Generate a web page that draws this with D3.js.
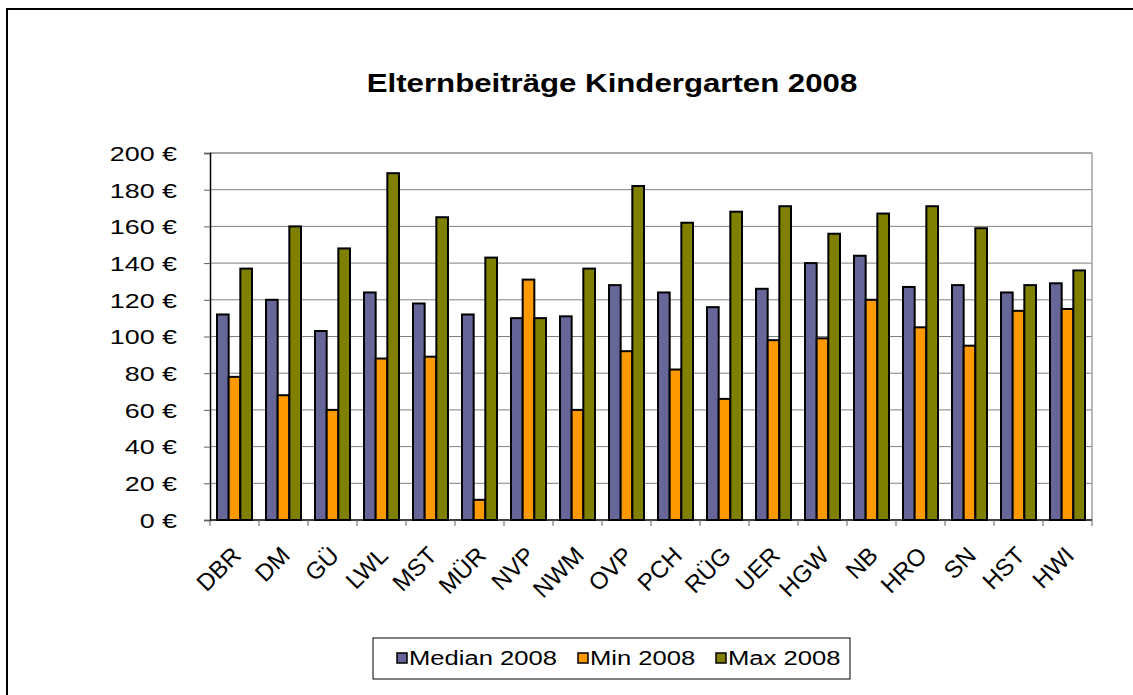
<!DOCTYPE html>
<html>
<head>
<meta charset="utf-8">
<script src="https://cdn.jsdelivr.net/npm/d3@7"></script>
<style>
  body { margin: 0; background: #fff; }
  svg text { font-family: Arial, "Liberation Sans", sans-serif; }
</style>
</head>
<body>
<svg id="chart" width="1133" height="695"></svg>
<script>
// Kreise / kreisfreie Städte
var kreise = ["DBR", "DM", "GÜ", "LWL", "MST", "MÜR", "NVP", "NWM", "OVP",
              "PCH", "RÜG", "UER", "HGW", "NB", "HRO", "SN", "HST", "HWI"];

var median2008 = [112, 120, 103, 124, 118, 112, 110, 111, 128, 124, 116, 126, 140, 144, 127, 128, 124, 129];
var min2008    = [78, 68, 60, 88, 89, 11, 131, 60, 92, 82, 66, 98, 99, 120, 105, 95, 114, 115];
var max2008    = [137, 160, 148, 189, 165, 143, 110, 137, 182, 162, 168, 171, 156, 167, 171, 159, 128, 136];

var serien = ["Median 2008", "Min 2008", "Max 2008"];
var farben = ["#666699", "#FF9900", "#808000"];
var yTicks = [0, 20, 40, 60, 80, 100, 120, 140, 160, 180, 200];

// the screenshot is stretched horizontally, so the text is too
var sx = 1.28;

var svg = d3.select("#chart"),
    margin = {top: 153, right: 41, bottom: 175, left: 210},
    width = +svg.attr("width") - margin.left - margin.right,
    height = +svg.attr("height") - margin.top - margin.bottom;

// outer chart border (cut off right / bottom like the screenshot)
svg.append("rect")
    .attr("x", 7).attr("y", 9)
    .attr("width", 1140).attr("height", 700)
    .attr("fill", "none")
    .attr("stroke", "#000")
    .attr("stroke-width", 2);

svg.append("text")
    .attr("transform", "translate(612,92) scale(1.2,1)")
    .attr("text-anchor", "middle")
    .style("font-size", "26px")
    .style("font-weight", "bold")
    .text("Elternbeiträge Kindergarten 2008");

var g = svg.append("g").attr("transform", "translate(" + margin.left + "," + margin.top + ")");

var x = d3.scaleBand().domain(kreise).range([0, width]).paddingInner(0).paddingOuter(0);
var y = d3.scaleLinear().domain([0, 200]).range([height, 0]);

// gridlines
g.selectAll(".grid")
  .data(yTicks.filter(function(d) { return d > 0; }))
  .enter().append("line")
    .attr("x1", 0).attr("x2", width)
    .attr("y1", function(d) { return y(d); })
    .attr("y2", function(d) { return y(d); })
    .attr("stroke", "#808080")
    .attr("stroke-width", 1);

// top / right border of plot area
g.append("line")
    .attr("x1", width).attr("x2", width)
    .attr("y1", 0).attr("y2", height)
    .attr("stroke", "#a0a0a0")
    .attr("stroke-width", 1.5);
g.append("line")
    .attr("x1", 0).attr("x2", width)
    .attr("y1", 0).attr("y2", 0)
    .attr("stroke", "#a0a0a0")
    .attr("stroke-width", 1.5);

// bars
var gap = 1.2;
var bw = x.bandwidth() / (3 + gap);
var werte = [median2008, min2008, max2008];

werte.forEach(function(arr, si) {
  g.selectAll(".bar" + si)
    .data(kreise)
    .enter().append("rect")
      .attr("x", function(d) { return x(d) + bw * gap / 2 + si * bw; })
      .attr("y", function(d, i) { return y(arr[i]); })
      .attr("width", bw)
      .attr("height", function(d, i) { return height - y(arr[i]); })
      .attr("fill", farben[si])
      .attr("stroke", "#000")
      .attr("stroke-width", 2);
});

// y axis
var yAxis = g.append("g")
    .call(d3.axisLeft(y).tickValues(yTicks).tickSize(6).tickFormat(function(d) { return d + " €"; }));
yAxis.select(".domain").attr("stroke", "#000").attr("stroke-width", 1.5);
yAxis.selectAll(".tick line").attr("stroke", "#606060");
yAxis.selectAll("text")
    .attr("x", null)
    .attr("dy", "0.35em")
    .attr("transform", "translate(-33,0) scale(" + sx + ",1)")
    .attr("fill", "#000")
    .style("font-size", "21px")
    .style("font-family", "Arial, 'Liberation Sans', sans-serif");

// x axis: ticks at category boundaries
var xAxis = g.append("g")
    .attr("transform", "translate(0," + height + ")");
xAxis.append("line")
    .attr("x1", 0).attr("x2", width)
    .attr("stroke", "#000").attr("stroke-width", 1.5);
xAxis.selectAll(".xt")
  .data(kreise.concat(["_end"]))
  .enter().append("line")
    .attr("x1", function(d, i) { return i * x.step(); })
    .attr("x2", function(d, i) { return i * x.step(); })
    .attr("y1", 0).attr("y2", 6)
    .attr("stroke", "#606060");
xAxis.selectAll(".xl")
  .data(kreise)
  .enter().append("text")
    .attr("transform", function(d) {
      return "translate(" + (x(d) + x.bandwidth() / 2 + 2) + ",31) rotate(-45)";
    })
    .attr("text-anchor", "end")
    .attr("dy", "0.35em")
    .style("font-size", "24px")
    .attr("fill", "#000")
    .text(function(d) { return d; });

// legend
var leg = svg.append("g");
leg.append("rect")
    .attr("x", 373).attr("y", 638)
    .attr("width", 477).attr("height", 41)
    .attr("fill", "#fff")
    .attr("stroke", "#000")
    .attr("stroke-width", 1);
var legX = [397, 578, 716];
serien.forEach(function(s, i) {
  leg.append("rect")
    .attr("x", legX[i]).attr("y", 653)
    .attr("width", 10).attr("height", 10)
    .attr("fill", farben[i])
    .attr("stroke", "#000")
    .attr("stroke-width", 1.5);
  leg.append("text")
    .attr("transform", "translate(" + (legX[i] + 12) + ",665) scale(" + sx + ",1)")
    .style("font-size", "20px")
    .attr("fill", "#000")
    .text(s);
});
</script>
</body>
</html>
